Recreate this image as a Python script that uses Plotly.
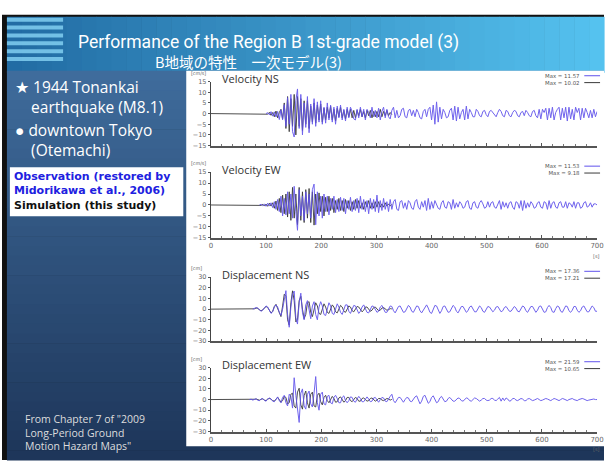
import numpy as np
import plotly.graph_objects as go

W, H = 611, 464
DT = 3.0  # sample interval of the digitised records [s]

# ---------------- records: values every DT seconds from *_START ----------------
VEL_NS_OBS_START = 100
VEL_NS_OBS = [
    0, 0.4, -0.6, 0.9, -1.2, 0.8, -1.6, 1.0, -2.8, 1.8,
    -3.0, 4.2, -6.0, 7.5, -5.0, 9.0, -8.5, -11.0, 6.0, 11.57,
    -7.0, 9.0, -10.0, 5.0, -6.5, 8.0, -9.0, 4.5, -5.0, 7.0,
    -6.0, 5.5, -4.0, 6.0, -5.0, 3.0, -4.5, 5.0, -3.0, 4.0,
    -4.0, 3.0, -5.0, 3.5, -2.0, 4.0, -3.0, 2.0, -3.5, 3.0,
    -2.0, 3.0, 1.0, -2.5, -3.0, 2.0, -2.0, 3.0, -1.5, 2.0,
    -3.0, 2.0, 0.5, -2.0, 3.0, -1.5, 1.5, -2.0, 2.5, -3.0,
    1.0, 3.0, -2.0, 2.0, -1.5, -2.5, 1.5, 3.0, -2.0, 1.5,
    -2.0, -1.0, 2.0, 2.5, -1.5, -2.0, 1.5, 2.0, -1.0, 1.5,
    -1.5, 2.0, 0.5, -2.0, -2.5, 1.0, 2.0, -1.5, 2.0, 3.0,
    -3.0, 4.0, -5.0, 5.5, -4.0, 3.0, -2.5, 2.0, 0.5, -2.0,
    -1.5, 1.5, 2.5, -3.0, 3.5, -3.5, 3.0, -2.5, 0.5, 2.0,
    -3.0, 3.5, -2.5, 2.0, 0.5, -1.5, -1.5, 2.0, 1.0, -1.0,
    -1.5, 1.0, 1.5, -0.5, -1.5, 1.0, 1.5, 0.5, -1.0, -1.5,
    0.5, 2.0, 1.0, -1.0, -1.5, 1.5, 1.0, -1.0, -1.5, 0.5,
    1.5, 1.0, -1.0, -1.5, 0.5, 1.0, -1.0, 1.5, 0.5, -1.0,
    -1.5, 1.0, 1.5, -1.0, -2.0, 2.0, -2.5, 2.0, 0.5, 2.5,
    -3.0, 2.5, -2.0, 3.0, -3.0, 0.5, 2.0, 3.0, -3.0, 2.5,
    -2.0, 3.0, -3.5, 3.0, -2.5, 2.0, -3.0, 3.0, 0.5, 2.5,
    -3.0, 2.5, -2.0, 2.5, 0.5, -2.0, 1.5, -2.0, 2.0, -1.5,
    1.0,
]
VEL_NS_SIM_START = 100
VEL_NS_SIM = [
    0, -0.3, 0.6, -0.8, 0.5, -1.5, 1.2, -2.0, 0.5, 2.0,
    -2.5, 5.0, -7.0, 8.0, -8.5, 7.0, -6.0, 9.0, -10.02, 8.0,
    -6.0, 7.0, -8.0, 6.0, -5.0, 6.0, -7.0, 3.5, -4.0, 5.0,
    -4.5, 4.0, -3.0, 4.5, -4.0, 2.5, -3.0, 3.0, -2.0, 3.5,
    -3.0, 2.0, -3.5, 2.5, -1.5, 3.0, -2.0, 1.5, -2.5, 2.0,
    -1.5, 2.0, -2.0, 1.5, -2.0, 1.5, -1.0, 2.0, -1.5, 1.0,
    -2.0, 1.5, -1.0, 1.5, -2.0, 1.0, -1.5, 1.0, -1.5, 2.0,
    -1.5, 1.0, -1.0, 1.5, -1.0, 0.5, -0.5,
]

VEL_EW_OBS_START = 88
VEL_EW_OBS = [
    0, 0.3, -0.4, 0.5, -0.6, 0.8, -0.5, 1.0, -1.2, 1.5,
    -2.0, 2.5, -3.0, 4.0, -5.0, 3.0, -4.5, 6.0, -4.0, 5.0,
    -6.0, 8.5, -3.0, -11.53, 7.0, -5.0, 4.0, -7.0, 6.0, -4.0,
    5.0, -6.0, 7.0, 9.5, -9.0, 6.0, -5.0, 4.0, -6.0, 5.0,
    -3.0, 4.0, -4.5, 3.0, -2.0, 4.0, -3.5, 2.5, -3.0, 3.5,
    -2.5, 3.0, -4.0, 2.0, -2.0, 3.5, -3.0, 2.0, -2.5, 3.0,
    -3.5, 4.0, -2.0, 2.5, -3.0, 2.0, -4.0, 3.0, -2.0, 2.5,
    -3.0, 4.5, -3.5, 2.0, -2.5, 3.0, -2.0, 1.5, -3.0, 2.5,
    -2.0, 1.5, 2.5, -2.0, -2.5, 1.5, 2.0, -1.5, 1.0, -2.0,
    2.0, 1.0, -1.5, -2.0, 1.5, 2.5, -1.0, -2.0, 1.5, -1.0,
    2.0, -2.5, 3.0, -2.0, 1.5, -1.5, 2.0, 0.5, -1.5, -2.0,
    1.0, 2.0, -1.0, -1.5, 1.5, 1.0, -2.0, 2.5, -1.5, 1.0,
    -1.0, 1.5, 0.5, -1.5, -1.0, 1.5, 2.0, -1.5, -2.0, 1.0,
    1.5, -1.0, -1.5, 1.0, 2.0, 0.5, -1.5, -1.0, 1.5, -1.0,
    1.0, 1.5, -1.0, -1.5, 0.5, 2.0, -2.0, 1.5, -1.0, 1.0,
    -1.5, 1.0, 1.5, -1.0, -2.0, 1.5, 1.0, -1.5, 2.0, -2.5,
    2.0, -1.5, 1.0, -1.0, 1.5, 0.5, -1.5, -1.0, 1.0, 1.5,
    -1.0, -1.5, 1.5, 1.0, -2.0, 2.0, -1.5, 1.0, 1.5, -1.0,
    -1.5, 1.0, 1.5, -1.0, -1.0, 1.5, -1.5, 1.0, 0.5, -1.0,
    1.5, -1.5, 1.0, 1.0, -1.5, -1.0, 1.0, 1.5, -1.0, -0.5,
    1.0, -1.0, 0.5, 0.5, 0,
]
VEL_EW_SIM_START = 88
VEL_EW_SIM = [
    0, -0.2, 0.3, -0.5, 0.4, -0.6, 0.8, -0.5, 1.0, -1.5,
    1.8, -2.5, 3.0, -3.5, 4.5, -4.0, 5.0, -5.5, 6.0, -7.0,
    8.0, -6.0, 5.0, -9.0, 8.0, -7.0, 6.0, -8.0, 7.0, -6.0,
    7.5, -8.0, 6.0, -9.18, 5.0, -4.0, 5.5, -3.0, 4.0, -5.0,
    3.5, -3.0, 4.0, -2.5, 3.0, -3.5, 2.0, -2.0, 3.0, -2.5,
    2.0, -3.0, 2.5, -1.5, 2.0, -2.5, 1.5, -2.0, 2.5, -1.5,
    2.0, -1.5, 1.0, -2.0, 1.5, -1.0, 2.0, -1.5, 1.0, -1.5,
    1.5, -1.0, 1.5, -1.0, 0.5, -1.0, 1.0, -0.5, 0.5, -0.5,
    0.3,
]

DIS_NS_OBS_START = 76
DIS_NS_OBS = [
    0, 0.5, 1.5, 1.0, -1.0, -2.0, -1.0, 1.5, 3.0, 2.0,
    -1.5, -4.0, -2.5, 2.0, 4.0, 2.0, -3.0, -6.0, 0, 10.0,
    17.36, -5.0, -17.0, 2.0, 14.0, 17.0, -8.0, -14.0, 6.0, 15.0,
    -3.0, -10.0, 4.0, 8.0, -2.0, -9.0, 3.0, 7.0, -5.0, -10.0,
    2.0, 7.0, 3.0, -5.0, -6.0, 1.0, 6.0, 3.0, -4.0, -5.0,
    1.0, 5.0, 2.0, -3.0, -5.0, 0, 4.0, 4.0, -2.0, -4.0,
    -1.0, 3.5, 3.0, -1.0, -4.0, -2.0, 2.0, 4.0, 1.0, -3.0,
    -3.5, 0, 3.0, 2.5, -1.0, -3.0, -2.0, 2.0, 3.5, 0.5,
    -3.0, -3.0, 0.5, 3.0, 2.5, -1.5, -3.5, -1.0, 2.5, 3.0,
    0, -3.0, -2.5, 1.0, 3.5, 2.0, -2.0, -3.0, 0, 3.0,
    2.5, -1.5, -3.5, -1.0, 2.5, 4.0, 1.0, -3.0, -4.0, 0,
    3.5, 3.0, -1.5, -4.0, -1.5, 2.5, 3.0, 0, -3.0, -2.5,
    1.0, 3.5, 2.0, -2.0, -3.5, -0.5, 2.5, 2.5, -1.0, -3.0,
    -1.5, 2.0, 3.0, 0.5, -2.5, -2.5, 1.0, 3.0, 1.5, -2.0,
    -3.0, -0.5, 2.5, 2.0, -1.0, -2.5, -1.0, 2.0, 2.5, -0.5,
    -2.5, -1.5, 1.5, 2.5, 0.5, -2.0, -2.0, 1.0, 2.5, 1.0,
    -2.0, -2.5, 0.5, 3.0, 2.0, -1.5, -3.0, -0.5, 2.5, 2.5,
    -1.0, -3.0, -1.0, 2.5, 3.0, 0, -3.0, -2.5, 1.5, 3.5,
    1.5, -2.5, -3.0, 0.5, 3.0, 2.0, -2.0, -3.0, 0, 3.0,
    2.5, -1.5, -3.0, -1.0, 2.5, 2.5, -1.0, -3.0, -1.5, 2.0,
    3.0, 0.5, -2.5, -2.5, 1.0, 3.0, 1.5, -2.0, -2.0,
]
DIS_NS_SIM_START = 76
DIS_NS_SIM = [
    0, 0.3, 1.0, 0.8, -0.8, -1.5, -0.5, 1.5, 2.5, 1.5,
    -1.0, -3.5, -2.0, 2.5, 4.5, 1.0, -4.0, -7.0, 3.0, 14.0,
    12.0, -10.0, -15.0, 6.0, 17.21, 8.0, -12.0, -10.0, 8.0, 12.0,
    0, -9.0, -5.0, 6.0, 7.0, -3.0, -7.0, 1.0, 6.0, 3.0,
    -4.0, -5.0, 1.0, 5.0, 2.0, -3.0, -4.0, 1.0, 4.0, 2.0,
    -2.5, -3.5, 0.5, 3.5, 2.0, -2.0, -3.0, 0, 3.0, 2.0,
    -1.5, -2.5, 0, 2.5, 2.0, -1.0, -2.5, -1.0, 2.0, 2.0,
    -0.5, -2.0, -1.0, 1.5, 2.0, 0, -1.5, -1.0, 1.0, 1.5,
    0, -1.0, -0.5, 0.5, 0.2,
]

DIS_EW_OBS_START = 70
DIS_EW_OBS = [
    0, 0.3, -0.5, 0.4, 0.8, -0.6, -1.0, 0.5, 1.0, -0.8,
    -1.5, 0.5, 1.5, 0.5, -1.5, -2.0, 1.0, 2.5, -1.0, -3.0,
    2.0, 4.0, -3.0, -6.0, 5.0, 3.0, -8.0, 20.5, 4.0, -12.0,
    -21.5, 6.0, 10.0, -6.0, -9.0, 5.0, 8.0, -4.0, -7.0, 6.0,
    21.59, -3.0, -10.0, 5.0, 7.0, -4.0, -5.0, 3.0, 4.0, -3.0,
    -4.0, 2.0, 4.0, 1.0, -3.0, -3.0, 2.0, 3.5, -1.0, -3.0,
    -1.0, 2.5, 2.0, -1.5, -2.5, 0.5, 3.0, 1.0, -2.0, -2.0,
    1.0, 2.5, 0.5, -2.0, -1.5, 1.5, 2.0, -1.0, -2.5, 0,
    2.0, 1.5, -1.5, -2.0, 1.0, 3.0, 5.0, -1.0, -3.0, -1.0,
    2.0, 2.0, -1.0, -2.5, 0, 2.0, 1.5, -1.5, -2.0, 0.5,
    2.5, 3.5, -1.0, -4.0, -1.5, 3.0, 4.0, -0.5, -3.5, -2.0,
    2.0, 3.5, 0.5, -3.0, -2.0, 1.5, 3.0, 0.5, -2.0, -1.5,
    1.0, 2.0, 0, -1.5, -1.5, 0.5, 1.5, 1.0, -1.0, -1.5,
    0, 1.5, 1.0, -1.0, -1.5, 0, 1.5, 1.0, -0.5, -1.5,
    -0.5, 1.0, 1.0, -0.5, -1.0, -0.5, 1.0, 1.0, -0.5, -1.0,
    0.5, 2.0, -1.5, 1.5, -1.0, 1.5, 0.5, -1.5, -1.0, 1.0,
    1.0, -0.5, -1.0, 0, 1.0, 0.5, -1.0, -1.0, 0.5, 1.0,
    0, -1.0, -0.5, 0.5, 1.0, 0, -1.0, -0.5, 0.5, 1.0,
    0.5, -0.5, -1.0, 0, 1.0, 0.5, -0.5, -1.0, 0, 1.0,
    0.5, -0.5, -1.0, 0, 0.5, 1.0, 0, -0.5, -1.0, 0,
    0.5, 1.0, 0.5, -0.5, -1.0, -0.5, 0, 0.5, 0.5, 0,
    0,
]
DIS_EW_SIM_START = 70
DIS_EW_SIM = [
    0, 0.2, -0.3, 0.3, 0.5, -0.4, -0.6, 0.3, 0.6, -0.5,
    -1.0, 0.5, 1.0, 0.5, -1.0, -1.5, 0.5, 2.0, 0, -2.5,
    -1.0, 3.0, 2.0, -4.0, -3.0, 5.0, 6.0, -6.0, -8.0, 7.0,
    10.65, -5.0, -9.0, 4.0, 8.0, -3.0, -8.0, 5.0, 7.0, -6.0,
    -7.0, 4.0, 6.0, -2.0, -5.0, 2.0, 4.0, -1.0, -3.0, 0.5,
    3.0, 1.0, -2.5, -2.0, 1.5, 2.5, -0.5, -2.5, -1.0, 2.0,
    2.0, -1.0, -2.0, 0, 2.0, 1.0, -1.5, -1.5, 1.0, 1.5,
    0, -1.5, -1.0, 1.0, 1.5, -0.5, -1.5, -0.5, 1.0, 1.0,
    -0.5, -1.0, 0, 1.0, 0.5, -0.5, 0.2,
]

PANEL_TITLES = ["Velocity NS", "Velocity EW", "Displacement NS", "Displacement EW"]
PANEL_UNITS = ["[cm/s]", "[cm/s]", "[cm]", "[cm]"]
PANEL_YMAX = [15, 15, 30, 30]
PANEL_YDTICK = [5, 5, 10, 10]
X_TICKS = [0, 100, 200, 300, 400, 500, 600, 700]

PANELS = [
    (VEL_NS_OBS_START, VEL_NS_OBS, VEL_NS_SIM_START, VEL_NS_SIM),
    (VEL_EW_OBS_START, VEL_EW_OBS, VEL_EW_SIM_START, VEL_EW_SIM),
    (DIS_NS_OBS_START, DIS_NS_OBS, DIS_NS_SIM_START, DIS_NS_SIM),
    (DIS_EW_OBS_START, DIS_EW_OBS, DIS_EW_SIM_START, DIS_EW_SIM),
]

OBS_COLOR = "#6052ec"
SIM_COLOR = "#3a3a3a"


def px(x):
    return x / W


def py(y):
    return 1 - y / H


def sampled(start, vals):
    return start + DT * np.arange(len(vals)), np.asarray(vals, dtype=float)


def with_baseline(start, vals):
    """Quiet baseline from t=0, then the sampled record."""
    t, v = sampled(start, vals)
    return np.concatenate([[0.0], t]), np.concatenate([[0.0], v])


fig = go.Figure()
shapes = []
annotations = []

# ---------------- slide background ----------------
shapes.append(dict(type="rect", xref="paper", yref="paper", x0=0, x1=1, y0=py(464), y1=py(11),
                   fillcolor="#111111", line_width=0, layer="below"))
# header: horizontal gradient
hdr_left = np.array([0x22, 0x6c, 0xa4])
hdr_right = np.array([0x55, 0xc2, 0xef])
n_strips = 40
for i in range(n_strips):
    x0 = 5 + (W - 5) * i / n_strips
    x1 = 5 + (W - 5) * (i + 1) / n_strips + 0.6
    c = hdr_left + (hdr_right - hdr_left) * (i / (n_strips - 1))
    shapes.append(dict(type="rect", xref="paper", yref="paper", x0=px(x0), x1=px(x1),
                       y0=py(70), y1=py(13), fillcolor="rgb(%d,%d,%d)" % tuple(c.astype(int)),
                       line_width=0, layer="below"))
# header bars at the left
for yb in [14, 22, 30, 38, 46, 54]:
    shapes.append(dict(type="rect", xref="paper", yref="paper", x0=px(5), x1=px(62),
                       y0=py(yb + 4), y1=py(yb), fillcolor="rgba(135,212,245,0.8)",
                       line_width=0, layer="below"))
# left panel: vertical gradient
pan_top = np.array([0x3f, 0x6c, 0x9c])
pan_bot = np.array([0x1e, 0x36, 0x5a])
n_rows = 40
for i in range(n_rows):
    y0 = 68 + (464 - 68) * i / n_rows
    y1 = 68 + (464 - 68) * (i + 1) / n_rows + 0.6
    c = pan_top + (pan_bot - pan_top) * (i / (n_rows - 1))
    shapes.append(dict(type="rect", xref="paper", yref="paper", x0=px(5), x1=1,
                       y0=py(y1), y1=py(y0), fillcolor="rgb(%d,%d,%d)" % tuple(c.astype(int)),
                       line_width=0, layer="below"))
# chart sheet
shapes.append(dict(type="rect", xref="paper", yref="paper", x0=px(187), x1=1, y0=py(450), y1=py(68),
                   fillcolor="white", line_width=0, layer="below"))
# legend box on the left
shapes.append(dict(type="rect", xref="paper", yref="paper", x0=px(8), x1=px(184), y0=py(216), y1=py(166),
                   fillcolor="white", line_width=0, layer="below"))


# ---------------- slide texts ----------------
def text(x, y, s, size, color, family="Open Sans", anchor="left", bold=False, align="left"):
    annotations.append(dict(xref="paper", yref="paper", x=px(x), y=py(y),
                            text=("<b>%s</b>" % s) if bold else s,
                            showarrow=False, xanchor=anchor, yanchor="middle", align=align,
                            borderpad=0,
                            font=dict(size=size, color=color, family=family)))


text(270, 39, "Performance of the Region B 1st-grade model (3)", 17.5, "white", "Roboto", "center")
text(250, 58.5, "B地域の特性　一次モデル(3)", 14.5, "white", "Noto Sans CJK JP", "center")
text(12, 95, "★ 1944 Tonankai<br>    earthquake (M8.1)", 15.5, "white")
text(12, 138, "● downtown Tokyo<br>    (Otemachi)", 15.5, "white")
text(11, 190,
     "<span style='color:#2020e0'>Observation (restored by</span><br>"
     "<span style='color:#2020e0'>Midorikawa et al., 2006)</span><br>"
     "<span style='color:#111111'>Simulation (this study)</span>",
     11, "#2020e0", "DejaVu Sans", bold=True)
text(22, 436, 'From Chapter 7 of "2009<br>Long-Period Ground<br>Motion Hazard Maps"',
     10.5, "#dddddd")

# ---------------- seismogram panels ----------------
X_LEFT, X_RIGHT = 212, 604
PANEL_PX = [(79, 144), (171, 238), (278, 343), (370, 435)]
SHOW_XLABELS = [False, True, False, True]

layout_axes = {}
for k, (top, bot) in enumerate(PANEL_PX):
    n = k + 1
    xa = "x" if n == 1 else "x%d" % n
    ya = "y" if n == 1 else "y%d" % n
    obs_start, obs, sim_start, sim = PANELS[k]
    t_s, v_s = with_baseline(sim_start, sim)
    t_o, v_o = sampled(obs_start, obs)
    fig.add_trace(go.Scatter(x=t_s, y=v_s, mode="lines", line=dict(color=SIM_COLOR, width=0.9),
                             xaxis=xa, yaxis=ya, showlegend=False, hoverinfo="skip"))
    fig.add_trace(go.Scatter(x=t_o, y=v_o, mode="lines", line=dict(color=OBS_COLOR, width=1),
                             xaxis=xa, yaxis=ya, showlegend=False, hoverinfo="skip", opacity=0.9))
    ymax = PANEL_YMAX[k]
    layout_axes["xaxis" if n == 1 else "xaxis%d" % n] = dict(
        domain=[px(X_LEFT), px(X_RIGHT)], range=[0, 700], anchor=ya,
        tickvals=X_TICKS, showticklabels=SHOW_XLABELS[k], ticks="inside", ticklen=3,
        tickcolor="#555", showline=True, linecolor="#555", linewidth=1.6, showgrid=False,
        zeroline=False, tickfont=dict(size=7, color="#666", family="DejaVu Sans"),
        minor=dict(dtick=20, ticks="inside", ticklen=2, tickcolor="#777"),
    )
    layout_axes["yaxis" if n == 1 else "yaxis%d" % n] = dict(
        domain=[py(bot), py(top)], range=[-ymax, ymax], anchor=xa,
        dtick=PANEL_YDTICK[k], ticks="outside", ticklen=2, tickcolor="#555",
        showline=True, linecolor="#444", linewidth=1.3, showgrid=False, zeroline=False,
        tickfont=dict(size=6.5, color="#666", family="DejaVu Sans"),
    )
    # panel title and unit
    text(222, top - 3, PANEL_TITLES[k], 11, "#333333", "Open Sans")
    text(191, top - 8.5, PANEL_UNITS[k], 4.8, "#666666", "DejaVu Sans")
    if SHOW_XLABELS[k]:
        text(599, bot + 18, "[s]", 5, "#666666", "DejaVu Sans")
    # peak amplitude labels
    peaks = [float(np.max(np.abs(obs))), float(np.max(np.abs(sim)))]
    y_first = top - 6
    text(588, y_first + 3.5, "Max = %.2f<br>Max = %.2f" % tuple(peaks), 5.4, "#555555",
         "DejaVu Sans", "right", align="right")
    for j, col in enumerate([OBS_COLOR, SIM_COLOR]):
        yl = y_first + 7 * j
        shapes.append(dict(type="line", xref="paper", yref="paper", x0=px(591), x1=px(607),
                           y0=py(yl), y1=py(yl), line=dict(color=col, width=1)))

fig.update_layout(
    width=W, height=H, margin=dict(l=0, r=0, t=0, b=0),
    paper_bgcolor="white", plot_bgcolor="rgba(0,0,0,0)",
    shapes=shapes, annotations=annotations, showlegend=False,
    **layout_axes,
)

fig.write_html("out.html")
